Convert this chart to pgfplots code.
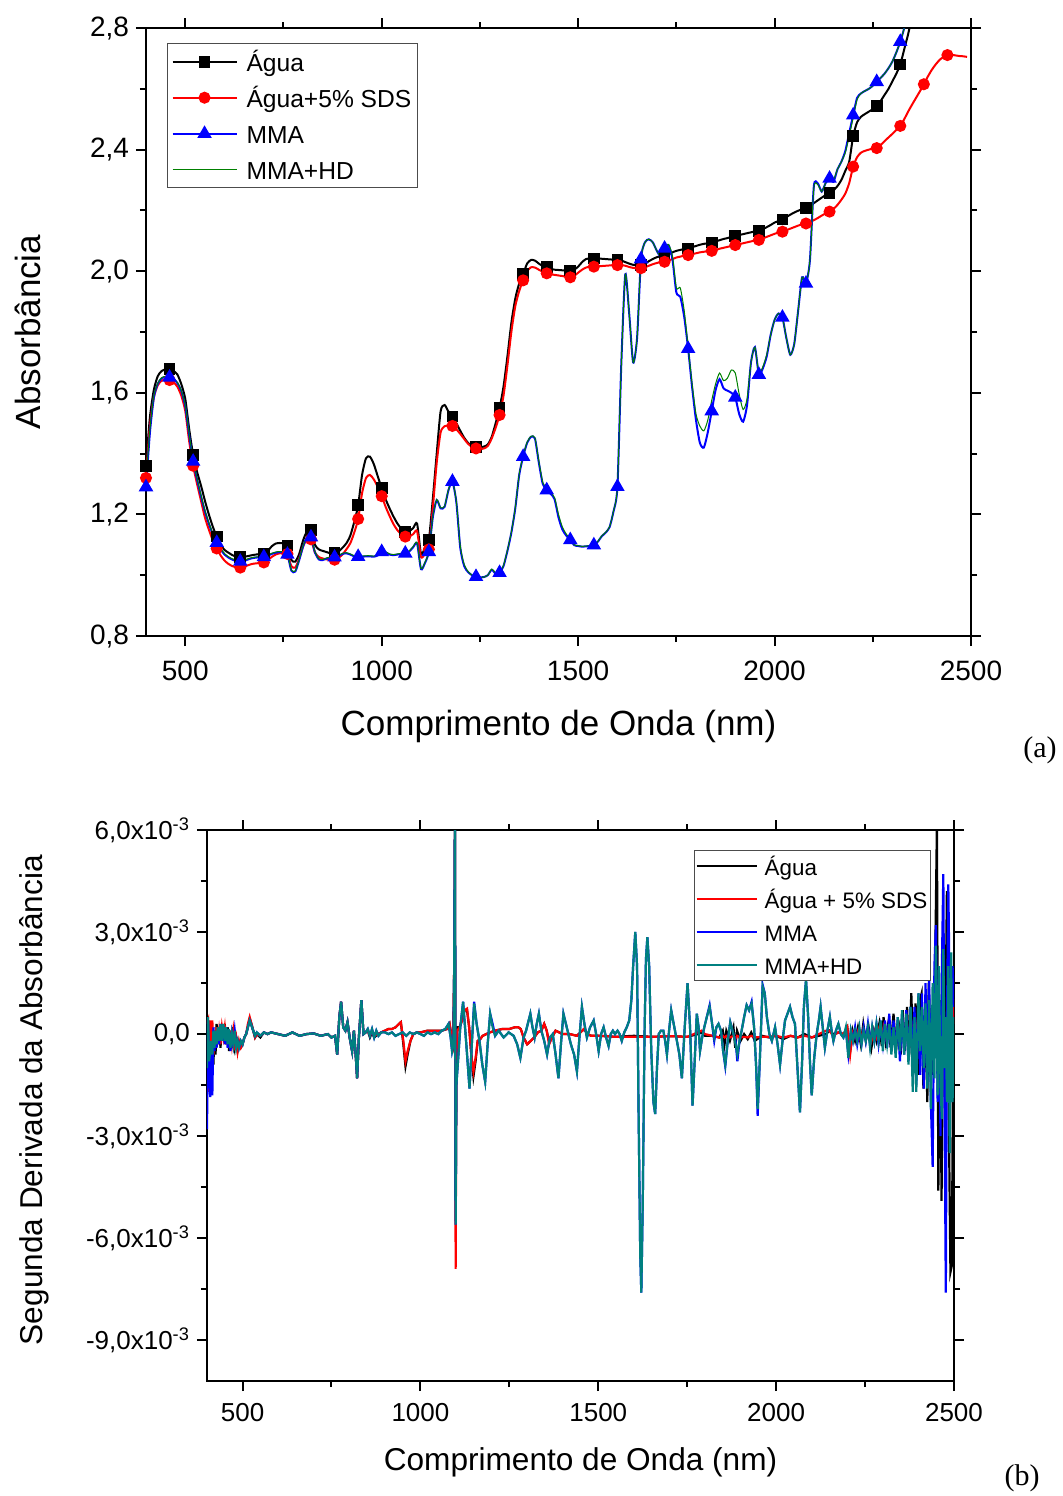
\documentclass[border=0pt]{standalone}
\usepackage{fontspec}
\setmainfont{Liberation Sans}
\newfontfamily\timesfont{Liberation Serif}
\usepackage{pgfplots}
\usepackage{pgfplotstable}
\pgfplotsset{compat=1.18}
\definecolor{ogreen}{RGB}{0,128,0}
\definecolor{oteal}{RGB}{0,128,128}

% (a) absorbance, every 10 nm
\pgfplotstableread{
nm agua sds mma mmahd
400 1.36 1.32 1.29 1.31
410 1.52 1.49 1.47 1.48
420 1.61 1.585 1.585 1.59
430 1.655 1.625 1.63 1.632
440 1.672 1.64 1.648 1.65
450 1.677 1.644 1.652 1.654
460 1.678 1.642 1.651 1.653
470 1.672 1.635 1.645 1.647
480 1.66 1.62 1.632 1.634
490 1.628 1.59 1.605 1.607
500 1.58 1.54 1.555 1.558
510 1.48 1.44 1.46 1.463
520 1.395 1.36 1.374 1.377
530 1.34 1.30 1.315 1.318
540 1.295 1.245 1.26 1.263
550 1.245 1.19 1.21 1.213
560 1.20 1.15 1.17 1.173
570 1.16 1.115 1.135 1.138
580 1.127 1.088 1.107 1.11
590 1.10 1.065 1.085 1.088
600 1.083 1.048 1.068 1.071
610 1.074 1.037 1.058 1.061
620 1.066 1.03 1.051 1.054
630 1.061 1.026 1.047 1.05
640 1.059 1.025 1.045 1.048
650 1.061 1.028 1.047 1.05
660 1.063 1.033 1.052 1.054
670 1.066 1.037 1.056 1.058
680 1.068 1.039 1.058 1.06
690 1.070 1.040 1.059 1.061
700 1.072 1.042 1.06 1.062
710 1.08 1.05 1.064 1.066
720 1.095 1.06 1.07 1.072
730 1.104 1.068 1.074 1.076
740 1.106 1.072 1.076 1.078
750 1.105 1.073 1.074 1.076
760 1.098 1.07 1.068 1.07
770 1.05 1.03 1.015 1.017
780 1.045 1.025 1.012 1.014
790 1.07 1.055 1.05 1.052
800 1.115 1.095 1.095 1.097
810 1.145 1.12 1.125 1.127
820 1.148 1.118 1.125 1.127
830 1.10 1.075 1.075 1.077
840 1.085 1.06 1.052 1.054
850 1.08 1.055 1.05 1.052
860 1.076 1.052 1.055 1.057
870 1.072 1.05 1.058 1.06
880 1.073 1.051 1.059 1.061
890 1.078 1.057 1.063 1.065
900 1.09 1.068 1.07 1.072
910 1.105 1.085 1.072 1.074
920 1.13 1.105 1.068 1.07
930 1.175 1.14 1.062 1.064
940 1.23 1.185 1.061 1.063
950 1.33 1.27 1.061 1.063
960 1.385 1.32 1.062 1.064
970 1.39 1.33 1.062 1.064
980 1.365 1.315 1.061 1.063
990 1.325 1.29 1.065 1.067
1000 1.286 1.26 1.077 1.079
1010 1.25 1.225 1.075 1.077
1020 1.22 1.195 1.068 1.07
1030 1.193 1.168 1.066 1.068
1040 1.17 1.148 1.068 1.07
1050 1.153 1.135 1.07 1.072
1060 1.143 1.127 1.072 1.074
1070 1.145 1.128 1.078 1.08
1080 1.155 1.135 1.092 1.094
1090 1.17 1.145 1.105 1.107
1100 1.07 1.06 1.02 1.022
1110 1.09 1.07 1.04 1.042
1120 1.116 1.085 1.077 1.079
1130 1.25 1.22 1.19 1.192
1140 1.40 1.37 1.247 1.249
1150 1.54 1.47 1.22 1.222
1160 1.56 1.49 1.225 1.227
1170 1.538 1.492 1.28 1.282
1180 1.522 1.491 1.308 1.31
1190 1.50 1.48 1.24 1.242
1200 1.475 1.465 1.09 1.095
1210 1.452 1.448 1.03 1.035
1220 1.435 1.432 1.01 1.012
1230 1.425 1.422 1.0 1.0
1240 1.422 1.417 0.995 0.995
1250 1.421 1.415 0.993 0.993
1260 1.423 1.417 0.994 0.994
1270 1.43 1.425 1.0 1.0
1280 1.455 1.45 1.018 1.02
1290 1.50 1.485 1.005 1.008
1300 1.55 1.527 1.008 1.01
1310 1.62 1.59 1.03 1.032
1320 1.72 1.69 1.08 1.082
1330 1.83 1.80 1.14 1.142
1340 1.91 1.885 1.22 1.222
1350 1.96 1.935 1.33 1.332
1360 1.99 1.97 1.39 1.392
1370 2.025 2.0 1.435 1.437
1380 2.037 2.013 1.455 1.457
1390 2.035 2.012 1.45 1.452
1400 2.025 2.005 1.37 1.375
1410 2.017 1.998 1.30 1.305
1420 2.013 1.993 1.28 1.285
1430 2.008 1.99 1.268 1.272
1440 2.005 1.988 1.25 1.255
1450 2.004 1.986 1.19 1.2
1460 2.003 1.984 1.15 1.158
1470 2.002 1.982 1.13 1.135
1480 2.002 1.98 1.116 1.118
1490 2.005 1.985 1.099 1.1
1500 2.015 1.995 1.096 1.097
1510 2.03 2.005 1.094 1.095
1520 2.04 2.012 1.095 1.096
1530 2.042 2.015 1.096 1.097
1540 2.042 2.015 1.099 1.1
1550 2.042 2.016 1.11 1.111
1560 2.041 2.017 1.128 1.129
1570 2.04 2.018 1.14 1.141
1580 2.039 2.019 1.158 1.159
1590 2.038 2.02 1.21 1.211
1600 2.037 2.02 1.291 1.292
1610 2.035 2.02 1.70 1.70
1620 2.03 2.018 1.99 1.99
1630 2.025 2.014 1.86 1.86
1640 2.021 2.011 1.70 1.70
1650 2.02 2.01 1.78 1.78
1660 2.02 2.01 2.04 2.04
1670 2.025 2.013 2.095 2.095
1680 2.033 2.018 2.105 2.105
1690 2.04 2.023 2.095 2.095
1700 2.046 2.027 2.068 2.068
1710 2.049 2.03 2.048 2.05
1720 2.05 2.031 2.075 2.078
1730 2.055 2.035 2.086 2.088
1740 2.062 2.04 2.04 2.05
1750 2.067 2.045 1.93 1.945
1760 2.07 2.048 1.916 1.945
1770 2.073 2.051 1.85 1.87
1780 2.075 2.053 1.745 1.75
1790 2.079 2.056 1.62 1.63
1800 2.083 2.059 1.51 1.53
1810 2.087 2.062 1.435 1.49
1820 2.09 2.064 1.42 1.475
1830 2.092 2.066 1.47 1.51
1840 2.094 2.067 1.54 1.575
1850 2.098 2.07 1.61 1.63
1860 2.102 2.074 1.645 1.665
1870 2.106 2.077 1.615 1.64
1880 2.109 2.08 1.607 1.648
1890 2.113 2.083 1.60 1.675
1900 2.116 2.086 1.585 1.665
1910 2.119 2.089 1.53 1.595
1920 2.122 2.092 1.505 1.545
1930 2.125 2.095 1.56 1.58
1940 2.128 2.098 1.70 1.70
1950 2.131 2.101 1.75 1.75
1960 2.133 2.103 1.66 1.665
1970 2.138 2.108 1.68 1.685
1980 2.145 2.113 1.72 1.725
1990 2.152 2.118 1.79 1.79
2000 2.16 2.123 1.84 1.84
2010 2.165 2.127 1.861 1.861
2020 2.17 2.13 1.848 1.848
2030 2.178 2.135 1.78 1.78
2040 2.186 2.14 1.725 1.725
2050 2.193 2.145 1.76 1.76
2060 2.199 2.15 1.87 1.87
2070 2.204 2.154 1.98 1.98
2080 2.208 2.157 1.96 1.96
2090 2.215 2.162 2.036 2.036
2100 2.224 2.168 2.28 2.275
2110 2.233 2.175 2.289 2.285
2120 2.242 2.183 2.262 2.262
2130 2.25 2.19 2.29 2.29
2140 2.257 2.196 2.305 2.305
2150 2.266 2.205 2.294 2.3
2160 2.28 2.218 2.335 2.335
2170 2.30 2.235 2.36 2.36
2180 2.33 2.255 2.395 2.39
2190 2.36 2.29 2.455 2.445
2200 2.444 2.344 2.513 2.505
2210 2.49 2.375 2.57 2.565
2220 2.508 2.39 2.585 2.585
2230 2.517 2.396 2.593 2.593
2240 2.525 2.4 2.60 2.60
2250 2.533 2.403 2.61 2.61
2260 2.543 2.405 2.623 2.623
2270 2.56 2.415 2.636 2.636
2280 2.58 2.428 2.65 2.65
2290 2.60 2.44 2.668 2.668
2300 2.625 2.452 2.69 2.69
2310 2.65 2.465 2.72 2.72
2320 2.68 2.478 2.755 2.755
2330 2.73 2.50 2.80 2.80
2340 2.78 2.525 2.86 2.86
2350 2.84 2.548 nan nan
2360 2.92 2.57 nan nan
2370 nan 2.592 nan nan
2380 nan 2.615 nan nan
2390 nan 2.64 nan nan
2400 nan 2.662 nan nan
2410 nan 2.68 nan nan
2420 nan 2.695 nan nan
2430 nan 2.705 nan nan
2440 nan 2.711 nan nan
2450 nan 2.712 nan nan
2460 nan 2.71 nan nan
2470 nan 2.708 nan nan
2480 nan 2.707 nan nan
2490 nan 2.705 nan nan
}\tabA

% (b) second derivative, in units of 1e-3
\pgfplotstableread{
nm agua sds
400 -0.5 0.3
403 0.4 0.4
406 -1.5 -1.7
409 0.3 0.4
412 -1.2 -0.8
415 -0.3 0.4
418 -0.9 -0.6
421 0.1 0.1
424 -0.6 -0.4
427 0.3 0.2
430 -0.2 -0.3
434 0.2 0.1
438 -0.4 -0.3
442 0.3 0.2
446 -0.2 -0.1
450 0.3 0.2
454 -0.3 -0.3
458 0.2 0.1
462 -0.5 -0.4
466 0.1 0.1
470 -0.4 -0.3
474 0.2 0.1
478 -0.4 -0.3
482 -0.2 -0.1
486 -0.5 -0.5
490 -0.3 -0.2
495 -0.4 -0.4
500 -0.3 -0.3
505 -0.1 -0.1
510 0.0 0.0
515 0.2 0.3
520 0.45 0.5
525 0.3 0.3
530 0.1 0.1
535 -0.1 -0.1
540 0.0 0.0
550 -0.1 -0.05
560 0.05 0.05
570 0.0 0.0
580 0.05 0.05
600 0.0 0.0
620 -0.05 -0.05
640 0.05 0.05
660 -0.05 -0.05
680 0.0 0.0
700 0.02 0.02
720 -0.05 -0.05
740 0.0 0.0
750 -0.1 -0.1
760 -0.05 -0.05
766 -0.6 -0.6
772 0.5 0.5
777 0.95 0.95
783 0.2 0.2
789 0.1 0.1
795 0.35 0.35
801 -0.1 -0.1
808 -0.5 -0.5
813 0.1 0.1
818 -0.6 -0.6
822 -1.3 -1.3
827 -0.1 -0.1
834 1.0 1.0
840 0.0 0.0
846 0.05 0.05
852 0.1 0.1
858 -0.1 -0.05
864 0.05 0.05
870 -0.1 -0.05
880 0.0 0.0
890 0.05 0.05
900 0.1 0.1
910 0.15 0.15
920 0.15 0.15
930 0.2 0.2
940 0.3 0.3
945 0.35 0.35
952 -0.3 -0.2
958 -0.95 -0.8
964 -0.6 -0.5
972 -0.2 -0.2
980 0.0 0.0
990 0.05 0.05
1000 0.05 0.05
1020 0.1 0.1
1040 0.1 0.1
1060 0.1 0.1
1075 0.15 0.15
1082 0.3 0.3
1088 -0.1 -0.1
1092 -0.3 -0.3
1095 2.0 2.0
1097 6.2 6.2
1099 -5.5 -6.9
1101 -1.0 -1.0
1104 0.2 0.1
1110 0.2 0.2
1117 0.4 0.4
1124 0.7 0.7
1131 0.7 0.75
1137 0.2 0.2
1143 -0.6 -0.6
1149 -1.25 -1.1
1155 -0.8 -0.7
1161 -0.2 -0.2
1168 -0.15 -0.15
1175 -0.05 -0.05
1185 0.0 0.0
1195 0.05 0.05
1210 0.1 0.1
1230 0.15 0.15
1250 0.15 0.15
1265 0.2 0.2
1275 0.2 0.2
1282 0.15 0.15
1290 -0.1 -0.1
1300 -0.3 -0.3
1310 -0.2 -0.2
1320 -0.1 -0.1
1330 0.05 0.05
1340 0.1 0.1
1348 0.3 0.3
1355 0.1 0.1
1362 -0.25 -0.3
1370 -0.1 -0.1
1380 0.1 0.1
1390 0.05 0.05
1400 0.0 0.0
1420 0.0 0.0
1440 -0.05 -0.05
1450 0.05 0.05
1460 0.15 0.15
1470 0.0 0.0
1480 -0.05 -0.05
1500 -0.05 -0.05
1550 -0.08 -0.08
1600 -0.05 -0.08
1650 -0.08 -0.08
1700 -0.06 -0.06
1750 -0.08 -0.08
1780 0.0 0.05
1790 0.05 0.1
1800 -0.05 0.0
1820 -0.05 -0.05
1840 -0.1 -0.1
1850 0.1 -0.05
1855 -0.3 -0.1
1860 0.1 -0.05
1870 -0.2 -0.1
1880 0.2 -0.05
1885 -0.4 -0.15
1890 0.1 -0.05
1900 -0.2 -0.1
1910 0.0 -0.08
1920 -0.15 -0.1
1930 0.05 -0.05
1940 -0.2 -0.1
1960 -0.05 -0.08
1980 -0.1 -0.08
2000 -0.05 -0.05
2020 -0.15 -0.1
2040 -0.05 -0.05
2060 -0.1 -0.1
2080 0.0 -0.05
2100 -0.1 -0.1
2120 -0.05 0.0
2140 0.0 0.1
2150 0.1 0.1
2160 0.0 -0.05
2175 0.05 0.05
2190 0.0 0.0
2200 0.2 0.2
2208 -0.5 -0.6
2215 0.1 0.05
2222 -0.2 -0.1
2230 0.2 0.1
2238 -0.3 -0.2
2245 0.3 0.15
2252 -0.2 -0.1
2260 0.2 0.1
2268 -0.4 -0.2
2275 0.1 0.1
2282 -0.2 -0.1
2290 0.3 0.2
2297 -0.35 -0.1
2302 0.5 0.2
2308 -0.2 -0.1
2315 0.3 0.15
2322 -0.4 -0.2
2330 0.6 0.2
2337 -0.5 -0.2
2344 0.4 0.2
2350 -0.6 -0.3
2356 0.7 0.3
2362 -0.5 -0.2
2368 0.8 0.3
2374 -0.6 -0.3
2380 1.2 0.3
2386 -0.8 -0.3
2392 0.9 0.3
2398 -1.2 -0.3
2404 1.0 0.3
2409 1.2 0.2
2414 -1.6 -0.4
2420 0.5 0.2
2425 -2.0 -0.3
2429 1.5 0.3
2434 -0.5 -0.2
2440 -1.2 -0.3
2447 2.0 0.3
2452 6.2 0.3
2456 -4.6 -0.3
2461 1.0 0.2
2465 -4.9 -0.3
2470 1.5 0.3
2475 -1.0 -0.2
2480 4.2 0.4
2485 -2.0 -0.3
2490 -7.0 0.5
2494 -6.8 1.0
2498 0.5 1.0
2500 -1.0 0.3
}\tabBw

\pgfplotstableread{
nm mma mmahd
400 -2.8 -1.0
403 0.4 0.5
406 -1.0 -0.8
409 -1.85 -0.5
412 -0.3 -0.2
415 -1.8 -0.6
418 0.2 0.1
421 -0.5 -0.4
424 0.0 0.1
427 -0.4 -0.3
430 0.1 0.2
434 -0.3 -0.2
438 0.3 0.3
442 -0.2 -0.2
446 0.25 0.3
450 -0.3 -0.2
454 0.2 0.2
458 -0.4 -0.3
462 0.1 0.15
466 -0.5 -0.4
470 0.0 0.0
474 -0.3 -0.3
478 0.1 0.1
482 -0.3 -0.4
486 -0.2 -0.2
490 -0.4 -0.4
495 -0.2 -0.2
500 -0.3 -0.3
505 -0.1 -0.1
510 0.0 0.0
515 0.2 0.2
520 0.4 0.4
525 0.25 0.25
530 0.1 0.1
535 -0.05 -0.05
540 0.05 0.05
550 -0.05 -0.05
560 0.05 0.05
570 0.0 0.0
580 0.05 0.05
600 0.0 0.0
620 -0.05 -0.05
640 0.05 0.05
660 -0.05 -0.05
680 0.0 0.0
700 0.02 0.02
720 -0.05 -0.05
740 0.0 0.0
750 -0.1 -0.1
760 -0.05 -0.05
766 -0.6 -0.6
772 0.5 0.5
777 0.95 0.95
783 0.2 0.2
789 0.1 0.1
795 0.35 0.35
801 -0.1 -0.1
808 -0.5 -0.5
813 0.1 0.1
818 -0.6 -0.6
822 -1.3 -1.3
827 -0.1 -0.1
834 1.0 1.0
840 0.0 0.0
846 0.05 0.05
852 0.15 0.15
858 -0.05 -0.05
864 0.15 0.15
870 -0.1 -0.1
876 0.1 0.1
882 -0.05 -0.05
890 0.05 0.05
900 0.05 0.05
910 0.0 0.0
920 0.05 0.05
930 -0.05 -0.05
940 0.0 0.0
950 0.05 0.05
960 -0.05 -0.05
970 0.05 0.05
980 0.0 0.0
990 0.05 0.05
1000 0.0 0.0
1010 -0.05 -0.05
1020 0.05 0.05
1030 0.0 0.0
1040 0.05 0.05
1050 0.0 0.0
1060 0.1 0.1
1070 0.15 0.15
1079 0.3 0.3
1085 -0.1 -0.1
1089 -0.5 -0.5
1093 -0.3 -0.3
1095 2.0 2.0
1097 6.2 6.2
1099 -5.6 -5.6
1101 -1.5 -1.5
1105 -0.9 -0.9
1112 0.2 0.2
1120 0.95 0.95
1129 -0.3 -0.3
1138 -1.6 -1.6
1145 -0.2 -0.2
1151 0.95 0.9
1158 0.3 0.3
1166 -0.2 -0.2
1174 -0.9 -0.9
1182 -1.4 -1.4
1189 -0.3 -0.3
1196 0.6 0.6
1203 0.3 0.2
1210 -0.05 -0.05
1220 0.1 0.1
1234 -0.1 -0.1
1248 0.05 0.05
1262 -0.05 -0.05
1272 -0.3 -0.3
1281 -0.7 -0.7
1290 -0.1 -0.1
1297 0.1 0.1
1309 0.6 0.6
1315 0.2 0.2
1321 -0.1 -0.1
1327 0.3 0.3
1333 0.6 0.6
1340 0.1 0.1
1348 -0.2 -0.2
1356 -0.6 -0.6
1364 -0.1 -0.1
1372 0.0 0.0
1380 -0.6 -0.6
1388 -1.3 -1.3
1395 -0.3 -0.3
1402 0.6 0.6
1409 0.3 0.3
1416 0.0 0.0
1423 -0.3 -0.3
1432 -0.6 -0.6
1440 -1.1 -1.1
1447 -0.1 -0.1
1454 0.8 0.8
1461 0.3 0.3
1468 -0.1 -0.1
1477 0.2 0.2
1487 0.4 0.4
1494 0.0 0.0
1501 -0.5 -0.5
1508 0.0 0.0
1515 0.2 0.2
1522 -0.1 -0.1
1529 -0.35 -0.35
1535 0.0 0.0
1541 0.1 0.1
1547 0.0 0.0
1554 0.1 0.1
1560 0.0 0.0
1566 -0.2 -0.2
1573 0.05 0.05
1580 0.2 0.2
1587 0.4 0.4
1593 1.0 1.0
1598 2.0 2.0
1604 3.0 3.0
1609 2.0 2.0
1613 -2.0 -2.0
1618 -6.5 -6.5
1621 -7.6 -7.6
1625 -5.0 -5.0
1630 0.0 0.0
1634 2.2 2.2
1638 2.85 2.85
1643 2.0 2.0
1649 -0.5 -0.5
1655 -2.0 -2.0
1660 -2.35 -2.35
1665 -1.0 -1.0
1670 0.0 0.0
1676 0.1 0.1
1683 0.1 0.1
1688 -0.2 -0.2
1693 -0.6 -0.6
1699 0.1 0.1
1705 0.7 0.7
1712 0.3 0.3
1721 -0.2 -0.2
1728 -0.6 -0.6
1735 -1.3 -1.3
1743 0.2 0.2
1751 1.5 1.5
1758 0.2 0.2
1765 -2.1 -2.1
1771 -0.8 -0.8
1777 0.6 0.6
1782 0.2 0.2
1786 -0.5 -0.5
1792 -0.1 -0.1
1798 0.2 0.2
1805 0.5 0.5
1813 0.85 0.8
1820 0.3 0.3
1826 -0.2 -0.1
1832 0.2 0.2
1838 0.3 0.3
1845 0.1 0.1
1851 -0.5 -0.5
1857 -0.95 -0.9
1864 -0.2 -0.2
1871 0.35 0.35
1880 0.0 0.0
1886 -0.2 -0.3
1891 -0.8 -0.6
1897 -0.2 -0.2
1903 0.1 0.1
1910 0.5 0.5
1917 0.85 0.85
1924 0.7 0.7
1931 0.95 0.9
1938 0.2 0.2
1944 -1.0 -1.0
1948 -2.4 -2.2
1954 -0.8 -0.8
1962 1.45 1.4
1968 1.2 1.2
1974 0.5 0.5
1981 0.0 0.0
1988 -0.2 -0.2
1997 0.2 0.2
2004 -0.3 -0.3
2011 -0.9 -0.9
2018 -0.2 -0.2
2025 0.4 0.4
2032 0.6 0.6
2039 0.8 0.8
2046 0.5 0.5
2053 0.3 0.3
2060 -1.0 -1.0
2067 -2.3 -2.3
2073 -0.8 -0.8
2078 0.8 0.8
2084 1.6 1.6
2090 0.5 0.5
2095 -0.8 -0.8
2100 -1.8 -1.8
2107 -0.7 -0.7
2114 0.0 0.0
2120 0.4 0.4
2125 0.8 0.8
2131 0.2 0.2
2137 -0.4 -0.4
2144 0.1 0.1
2151 0.5 0.5
2156 0.1 0.1
2161 -0.2 -0.2
2168 0.1 0.1
2175 0.3 0.3
2182 0.0 0.0
2189 -0.1 -0.1
2196 0.1 0.2
2203 -0.6 -0.7
2210 0.1 0.1
2216 -0.2 -0.2
2222 0.2 0.1
2228 -0.3 -0.2
2234 0.1 0.2
2240 -0.3 -0.3
2246 0.2 0.1
2252 -0.2 -0.2
2258 0.3 0.2
2264 -0.3 -0.4
2270 0.2 0.2
2276 -0.2 -0.2
2282 0.3 0.3
2288 -0.3 -0.2
2294 0.2 0.4
2300 -0.3 -0.5
2306 0.4 0.3
2312 -0.4 -0.3
2318 0.6 0.3
2324 -0.5 -0.6
2330 0.4 0.2
2336 -0.5 -0.7
2342 0.5 0.5
2348 -0.8 -0.5
2354 0.6 0.7
2360 -0.6 -0.6
2366 0.7 0.6
2372 -0.8 -0.9
2378 0.8 0.8
2384 -0.8 -1.7
2389 0.8 0.5
2394 -1.5 -1.7
2400 1.2 1.2
2405 -1.2 -0.5
2410 1.2 0.8
2415 -1.6 -1.0
2420 1.5 0.9
2425 -1.5 -1.6
2430 1.8 1.0
2435 -2.0 -2.2
2440 -3.9 1.5
2445 2.0 -1.3
2449 3.2 2.6
2454 -2.0 -1.8
2458 1.0 2.0
2462 -3.0 -1.5
2466 2.0 -2.5
2470 4.7 2.5
2474 -3.0 -1.0
2477 -7.6 0.5
2480 0.0 -2.0
2484 4.4 2.0
2488 1.0 -3.5
2492 -2.0 2.4
2496 2.0 -2.0
2500 0.8 0.5
}\tabBm

\pgfplotsset{
  origin/.style={
    scale only axis,
    xmin=400, xmax=2500,
    tick align=outside,
    major tick length=5pt, minor tick length=3pt,
    minor x tick num=1, minor y tick num=1,
    axis line style={line width=1.2pt},
    every tick/.style={black, line width=1pt},
    xtick={500,1000,1500,2000,2500},
    xticklabels={500,1000,1500,2000,2500},
    legend cell align=left,
  },
}

\begin{document}
\begin{tikzpicture}
\path[use as bounding box] (0,0) rectangle (531pt,-748pt);

% (a)
\begin{axis}[origin,
  at={(73pt,-318pt)}, anchor=south west,
  width=412.5pt, height=304pt,
  ymin=0.8, ymax=2.8,
  ytick={0.8,1.2,1.6,2.0,2.4,2.8},
  yticklabels={{0,8},{1,2},{1,6},{2,0},{2,4},{2,8}},
  tick label style={font=\fontsize{14}{16}\selectfont},
  xticklabel style={yshift=-4pt},
  xlabel={Comprimento de Onda (nm)},
  ylabel={Absorbância},
  label style={font=\fontsize{17.5}{20}\selectfont},
  xlabel style={at={(axis description cs:0.5,-0.149)}, anchor=center},
  ylabel style={at={(axis description cs:-0.143,0.5)}, anchor=center},
  legend style={at={(axis description cs:0.0255,0.975)}, anchor=north west,
    draw=black!70, line width=0.5pt, font=\fontsize{12.3}{14}\selectfont,
    nodes={text height=11.5pt, text depth=2pt, inner sep=1pt},
    row sep=2.5pt, inner xsep=2pt, inner ysep=1.25pt},
  legend image code/.code={\draw[mark repeat=2,mark phase=2,#1] plot coordinates {(0pt,0pt) (16pt,0pt) (32pt,0pt)}; \path (35.5pt,0pt);},
]
\addplot[black, line width=1pt, smooth, tension=0.4, mark=square*, mark size=2.4pt, mark repeat=6, mark options={solid}] table[x=nm,y=agua] {\tabA};
\addplot[red, line width=1pt, smooth, tension=0.4, mark=*, mark size=2.5pt, mark repeat=6, mark options={solid}] table[x=nm,y=sds] {\tabA};
\addplot[blue, line width=1pt, smooth, tension=0.4, mark=triangle*, mark size=3.2pt, mark repeat=6, mark options={solid}] table[x=nm,y=mma] {\tabA};
\addplot[ogreen, line width=0.5pt, smooth, tension=0.4] table[x=nm,y=mmahd] {\tabA};
\legend{Água, Água+5\% SDS, MMA, MMA+HD}
\end{axis}

% (b)
\begin{axis}[origin,
  at={(103.5pt,-690.5pt)}, anchor=south west,
  width=373.5pt, height=275.5pt,
  ymin=-10.2, ymax=6,
  ytick={-9,-6,-3,0,3,6},
  yticklabels={{-9,0x10\textsuperscript{-3}}, {-6,0x10\textsuperscript{-3}}, {-3,0x10\textsuperscript{-3}}, {0,0}, {3,0x10\textsuperscript{-3}}, {6,0x10\textsuperscript{-3}}},
  tick label style={font=\fontsize{13}{15}\selectfont},
  xticklabel style={yshift=-2.5pt},
  xlabel={Comprimento de Onda (nm)},
  ylabel={Segunda Derivada da Absorbância},
  label style={font=\fontsize{15.8}{18}\selectfont},
  xlabel style={at={(axis description cs:0.5,-0.147)}, anchor=center},
  ylabel style={at={(axis description cs:-0.2316,0.51)}, anchor=center},
  legend style={at={(axis description cs:0.652,0.964)}, anchor=north west,
    draw=black!70, line width=0.5pt, font=\fontsize{11.2}{13}\selectfont,
    nodes={text height=11pt, text depth=1pt, inner sep=1pt},
    row sep=2.5pt, inner xsep=0.5pt, inner ysep=0.75pt},
  legend image code/.code={\draw[#1] (0pt,0pt) -- (30pt,0pt); \path (32.5pt,0pt);},
]
\addplot[black, line width=1.1pt] table[x=nm,y=agua] {\tabBw};
\addplot[red, line width=1.1pt] table[x=nm,y=sds] {\tabBw};
\addplot[blue, line width=1.1pt] table[x=nm,y=mma] {\tabBm};
\addplot[oteal, line width=1.1pt] table[x=nm,y=mmahd] {\tabBm};
\legend{Água, Água + 5\% SDS, MMA, MMA+HD}
\end{axis}

\node[font=\timesfont\fontsize{15}{17}\selectfont] at (520pt,-375pt) {(a)};
\node[font=\timesfont\fontsize{15}{17}\selectfont] at (511pt,-739pt) {(b)};
\end{tikzpicture}
\end{document}
